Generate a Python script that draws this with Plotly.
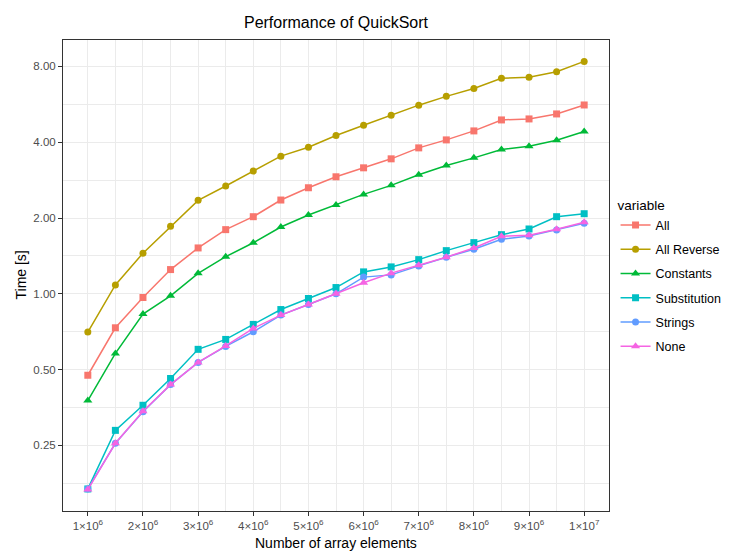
import math
import plotly.graph_objects as go

# ---- data ----
n_elements = [1.0e6, 1.5e6, 2.0e6, 2.5e6, 3.0e6, 3.5e6, 4.0e6, 4.5e6, 5.0e6, 5.5e6,
              6.0e6, 6.5e6, 7.0e6, 7.5e6, 8.0e6, 8.5e6, 9.0e6, 9.5e6, 1.0e7]

t_all = [0.475, 0.733, 0.967, 1.248, 1.521, 1.798, 2.024, 2.357, 2.637, 2.915,
         3.164, 3.435, 3.797, 4.084, 4.434, 4.902, 4.947, 5.178, 5.62]
t_all_reverse = [0.705, 1.085, 1.45, 1.854, 2.35, 2.68, 3.07, 3.52, 3.82, 4.25,
                 4.67, 5.12, 5.61, 6.08, 6.53, 7.17, 7.24, 7.62, 8.37]
t_constants = [0.377, 0.580, 0.831, 0.982, 1.206, 1.404, 1.595, 1.842, 2.055, 2.252,
               2.482, 2.695, 2.969, 3.234, 3.466, 3.743, 3.856, 4.073, 4.410]
t_substitution = [0.168, 0.287, 0.361, 0.461, 0.602, 0.659, 0.756, 0.866, 0.958, 1.059,
                  1.222, 1.279, 1.367, 1.484, 1.597, 1.717, 1.809, 2.024, 2.080]
t_strings = [0.168, 0.255, 0.340, 0.436, 0.534, 0.618, 0.707, 0.823, 0.907, 1.0,
             1.165, 1.189, 1.291, 1.398, 1.503, 1.647, 1.697, 1.793, 1.905]
t_none = [0.167, 0.255, 0.342, 0.436, 0.534, 0.621, 0.729, 0.823, 0.907, 1.0,
          1.106, 1.208, 1.299, 1.398, 1.521, 1.692, 1.708, 1.804, 1.923]

series_names = ["All", "All Reverse", "Constants", "Substitution", "Strings", "None"]
series_values = [t_all, t_all_reverse, t_constants, t_substitution, t_strings, t_none]

y_tick_vals = [0.25, 0.5, 1, 2, 4, 8]
y_tick_text = ["0.25", "0.50", "1.00", "2.00", "4.00", "8.00"]
y_minor_vals = [2 ** -2.5, 2 ** -1.5, 2 ** -0.5, 2 ** 0.5, 2 ** 1.5, 2 ** 2.5]

x_tick_vals = [1e6, 2e6, 3e6, 4e6, 5e6, 6e6, 7e6, 8e6, 9e6, 1e7]
x_tick_text = ["1\u00d710<sup>6</sup>", "2\u00d710<sup>6</sup>", "3\u00d710<sup>6</sup>",
               "4\u00d710<sup>6</sup>", "5\u00d710<sup>6</sup>", "6\u00d710<sup>6</sup>",
               "7\u00d710<sup>6</sup>", "8\u00d710<sup>6</sup>", "9\u00d710<sup>6</sup>",
               "1\u00d710<sup>7</sup>"]
x_minor_vals = [1.5e6, 2.5e6, 3.5e6, 4.5e6, 5.5e6, 6.5e6, 7.5e6, 8.5e6, 9.5e6]

x_title = "Number of array elements"
y_title = "Time [s]"
chart_title = "Performance of QuickSort"

# ---- styles ----
colors = ["#F8766D", "#B79F00", "#00BA38", "#00BFC4", "#619CFF", "#F564E3"]
symbols = ["square", "circle", "triangle-up", "square", "circle", "triangle-up"]
sizes = [7, 7, 8, 7, 7, 8]

FONT = "Liberation Sans, Arial, Helvetica, sans-serif"

fig = go.Figure()
for name, vals, c, s, sz in zip(series_names, series_values, colors, symbols, sizes):
    fig.add_trace(go.Scatter(
        x=n_elements, y=vals, name=name, mode="lines+markers",
        legendgroup=name,
        line=dict(color=c, width=1.5),
        marker=dict(color=c, symbol=s, size=sz, line=dict(width=0)),
    ))

# ggplot-like 5% expansion
xmin, xmax = min(n_elements), max(n_elements)
xpad = 0.05 * (xmax - xmin)
all_vals = [v for arr in series_values for v in arr]
lmin, lmax = math.log10(min(all_vals)), math.log10(max(all_vals))
lpad = 0.05 * (lmax - lmin)

grid_major = "#EBEBEB"
fig.update_layout(
    width=744, height=554,
    paper_bgcolor="white", plot_bgcolor="white",
    margin=dict(l=63, r=135, t=40, b=43, autoexpand=False),
    font=dict(family=FONT, color="black"),
    title=dict(text=chart_title, x=0.5, xref="paper", xanchor="center",
               y=1 - 22 / 554, yref="container", yanchor="middle",
               font=dict(size=16, color="black")),
    showlegend=True,
    legend=dict(title=dict(text="variable", font=dict(size=13.5, color="black")),
                font=dict(size=12.5, color="black"),
                x=1.012, xanchor="left", y=0.496, yanchor="middle",
                tracegroupgap=5, bgcolor="rgba(0,0,0,0)"),
    xaxis=dict(
        range=[xmin - xpad, xmax + xpad],
        tickmode="array", tickvals=x_tick_vals, ticktext=x_tick_text,
        ticks="outside", ticklen=4, tickwidth=1, tickcolor="#333333",
        tickfont=dict(size=11.5, color="#4D4D4D"),
        showgrid=True, gridcolor=grid_major, gridwidth=1,
        minor=dict(tickmode="array", tickvals=x_minor_vals, showgrid=True,
                   gridcolor=grid_major, gridwidth=0.6, ticks=""),
        showline=True, linecolor="#333333", linewidth=1, mirror=True,
        zeroline=False, automargin=False,
    ),
    yaxis=dict(
        type="log",
        range=[lmin - lpad, lmax + lpad],
        tickmode="array", tickvals=y_tick_vals, ticktext=y_tick_text,
        ticks="outside", ticklen=4, tickwidth=1, tickcolor="#333333",
        tickfont=dict(size=11.5, color="#4D4D4D"),
        showgrid=True, gridcolor=grid_major, gridwidth=1,
        minor=dict(tickmode="array", tickvals=y_minor_vals, showgrid=True,
                   gridcolor=grid_major, gridwidth=0.6, ticks=""),
        showline=True, linecolor="#333333", linewidth=1, mirror=True,
        zeroline=False, automargin=False,
    ),
    annotations=[
        dict(text=x_title, xref="paper", yref="paper", x=0.5, y=0,
             xanchor="center", yanchor="middle", yshift=-32, showarrow=False,
             font=dict(size=14, color="black")),
        dict(text=y_title, xref="paper", yref="paper", x=0, y=0.5,
             xanchor="center", yanchor="middle", xshift=-43, textangle=-90,
             showarrow=False, font=dict(size=14, color="black")),
    ],
)

fig.write_html("out.html")
